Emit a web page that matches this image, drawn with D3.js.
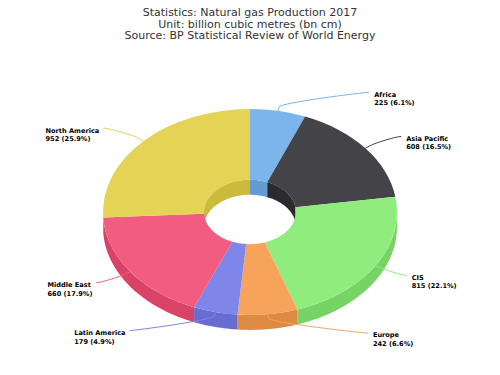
<!DOCTYPE html>
<html>
<head>
<meta charset="utf-8">
<script src="https://cdn.jsdelivr.net/npm/d3@7"></script>
<style>
  body { margin: 0; background: #fff; }
  svg { display: block; }
</style>
</head>
<body>
<svg id="chart" width="500" height="375"></svg>
<script>
// data
const regions = ["Africa", "Asia Pacific", "CIS", "Europe", "Latin America", "Middle East", "North America"];
const production = [225, 608, 815, 242, 179, 660, 952];
const colors = ["#7cb5ec", "#434348", "#90ed7d", "#f7a35c", "#8085e9", "#f15c80", "#e4d354"];
const titleLines = [
  "Statistics: Natural gas Production 2017",
  "Unit: billion cubic metres (bn cm)",
  "Source: BP Statistical Review of World Energy"
];

const cx = 250, cy = 212;
const rOuter = 147, rInner = 46, tilt = 0.7, depth = 15;
const labelR = 169, labelRy = 122;

const svg = d3.select("#chart");
const total = d3.sum(production);
const pct = d3.format(".1f");

const slices = d3.pie().sort(null).value(d => d.value)(
  regions.map((name, i) => ({ name: name, value: production[i], color: colors[i] }))
);

const darker = function (c) {
  const o = d3.rgb(c);
  return d3.rgb(o.r - 25.5, o.g - 25.5, o.b - 25.5).formatHex();
};

// point on the (tilted) ellipse
const pt = function (a, r, dy) {
  return [cx + r * Math.sin(a), cy - r * tilt * Math.cos(a) + (dy || 0)];
};

const line = d3.line();

// side wall between angles a0..a1 at radius r
const wall = function (a0, a1, r) {
  if (a1 <= a0) return null;
  const steps = Math.max(2, Math.ceil((a1 - a0) / 0.02));
  const top = d3.range(steps + 1).map(k => pt(a0 + (a1 - a0) * k / steps, r, 0));
  const bot = top.slice().reverse().map(p => [p[0], p[1] + depth]);
  return line(top.concat(bot)) + "Z";
};

// inner walls seen through the hole (back half)
const back = [[0, Math.PI / 2], [3 * Math.PI / 2, 2 * Math.PI]];
slices.forEach(function (s) {
  back.forEach(function (b) {
    const p = wall(Math.max(s.startAngle, b[0]), Math.min(s.endAngle, b[1]), rInner);
    if (p) svg.append("path").attr("d", p).attr("fill", darker(s.data.color));
  });
});

// outer walls (front half)
slices.forEach(function (s) {
  const p = wall(Math.max(s.startAngle, Math.PI / 2), Math.min(s.endAngle, 3 * Math.PI / 2), rOuter);
  if (p) svg.append("path").attr("d", p).attr("fill", darker(s.data.color));
});

// top faces
const arc = d3.arc().innerRadius(rInner).outerRadius(rOuter);
svg.append("g")
  .attr("transform", "translate(" + cx + "," + cy + ") scale(1," + tilt + ")")
  .selectAll("path")
  .data(slices)
  .enter().append("path")
  .attr("d", arc)
  .attr("fill", d => d.data.color);

// data labels with soft connectors
const labels = svg.append("g");
slices.forEach(function (s) {
  const mid = (s.startAngle + s.endAngle) / 2;
  const right = Math.sin(mid) >= 0;
  const touch = pt(mid, rOuter);
  const brk = pt(mid, rOuter + 6);
  const ly = cy - labelRy * Math.cos(mid);
  const lx = cx + (right ? 1 : -1) * Math.sqrt(labelR * labelR - (ly - cy) * (ly - cy));

  labels.append("path")
    .attr("d", "M" + lx + "," + ly +
      "C" + (lx + (right ? -5 : 5)) + "," + ly + " " +
      (2 * brk[0] - touch[0]) + "," + (2 * brk[1] - touch[1]) + " " +
      brk[0] + "," + brk[1] +
      "L" + touch[0] + "," + touch[1])
    .attr("fill", "none")
    .attr("stroke", s.data.color)
    .attr("stroke-width", 1);

  // label box: text left aligned inside, box placed beside the connector end
  const t = labels.append("text")
    .attr("font-family", "DejaVu Sans, sans-serif")
    .attr("font-weight", "bold")
    .attr("font-size", 6.6)
    .attr("fill", "#000");
  const l1 = t.append("tspan").attr("y", ly + 4.4).text(s.data.name);
  const l2 = t.append("tspan").attr("y", ly + 13)
    .text(s.data.value + " (" + pct(s.data.value / total * 100) + "%)");
  const w = Math.max(l1.node().getComputedTextLength(), l2.node().getComputedTextLength());
  const x0 = right ? lx + 5 : lx - 4 - w;
  l1.attr("x", x0);
  l2.attr("x", x0);
});

// title
svg.append("g").selectAll("text")
  .data(titleLines)
  .enter().append("text")
  .attr("x", 250)
  .attr("y", (d, i) => 16 + i * 11.5)
  .attr("text-anchor", "middle")
  .attr("font-family", "DejaVu Sans, sans-serif")
  .attr("font-size", 11)
  .attr("fill", "#333333")
  .text(d => d);
</script>
</body>
</html>
